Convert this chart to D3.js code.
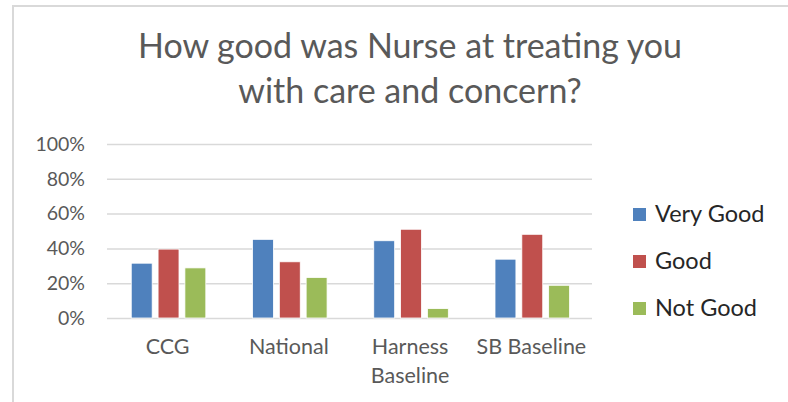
<!DOCTYPE html>
<html lang="en">
<head>
  <meta charset="UTF-8">
  <title>Nurse care and concern</title>
  <style>
    body { margin: 0; background: #fff; }
    text { font-family: Lato, "Open Sans", sans-serif; }
  </style>
</head>
<body>
  <script src="https://d3js.org/d3.v7.min.js"></script>
  <script>
    const categories = ['CCG', 'National', 'Harness Baseline', 'SB Baseline']
    const series = ['Very Good', 'Good', 'Not Good']
    const veryGood = [31.5, 45.2, 44.4, 33.8]
    const good = [39.6, 32.3, 51, 48.1]
    const notGood = [28.8, 23.3, 5.4, 18.8]
    const yTicks = [0, 20, 40, 60, 80, 100]
    const colors = ['#4f81bd', '#c0504d', '#9bbb59']
    const titleLines = ['How good was Nurse at treating you', 'with care and concern?']

    const values = [veryGood, good, notGood]
    const ds = categories.map((c, i) => ({ cat: c, vals: values.map(v => v[i]) }))

    const width = 788
    const height = 402
    const plot = { left: 107, right: 592, top: 144, bottom: 318 }

    const svg = d3.select('body')
      .append('svg')
      .attr('width', width)
      .attr('height', height)

    // chart frame (only top and left edges are visible)
    svg.append('path')
      .attr('d', `M13,${height + 5} L13,6 L${width + 5},6`)
      .attr('fill', 'none')
      .attr('stroke', '#d9d9d9')
      .attr('stroke-width', 2)

    svg.selectAll('.title')
      .data(titleLines)
      .enter()
      .append('text')
      .attr('class', 'title')
      .attr('x', 410)
      .attr('y', (d, i) => 58 + i * 45)
      .attr('text-anchor', 'middle')
      .attr('font-size', 34)
      .attr('fill', '#595959')
      .text(d => d)

    const xScale = d3.scaleBand()
      .domain(categories)
      .range([plot.left, plot.right])

    const xInner = d3.scaleBand()
      .domain(series)
      .range([xScale.bandwidth() * 0.2, xScale.bandwidth() * 0.815])
      .paddingInner(0.22)

    const yScale = d3.scaleLinear()
      .domain([0, 100])
      .range([plot.bottom, plot.top])

    const yAxis = d3.axisLeft(yScale)
      .tickValues(yTicks)
      .tickSize(-(plot.right - plot.left))
      .tickPadding(22)
      .tickFormat(d => d + '%')

    svg.append('g')
      .attr('transform', `translate(${plot.left},0)`)
      .call(yAxis)
      .call(g => g.select('.domain').remove())
      .call(g => g.selectAll('line').attr('stroke', '#d9d9d9').attr('stroke-width', 1.5))
      .call(g => g.selectAll('text')
        .attr('font-size', 19.5)
        .attr('fill', '#595959')
        .style('font-family', 'Lato, sans-serif'))

    const groups = svg.selectAll('.cat')
      .data(ds)
      .enter()
      .append('g')
      .attr('class', 'cat')
      .attr('transform', d => `translate(${xScale(d.cat)},0)`)

    groups.selectAll('rect')
      .data(d => d.vals.map((v, i) => ({ s: series[i], v: v, i: i })))
      .enter()
      .append('rect')
      .attr('x', d => xInner(d.s))
      .attr('width', xInner.bandwidth())
      .attr('y', d => yScale(d.v))
      .attr('height', d => yScale(0) - yScale(d.v))
      .attr('fill', d => colors[d.i])
      .attr('stroke', '#fff')
      .attr('stroke-width', 0.8)

    // category labels, wrapped like the original
    const xLabels = svg.selectAll('.xlab')
      .data(categories)
      .enter()
      .append('text')
      .attr('class', 'xlab')
      .attr('x', d => xScale(d) + xScale.bandwidth() / 2)
      .attr('y', 354)
      .attr('text-anchor', 'middle')
      .attr('font-size', 21.5)
      .attr('fill', '#595959')

    xLabels.each(function (d) {
      const lines = d === 'Harness Baseline' ? ['Harness', 'Baseline'] : [d]
      d3.select(this).selectAll('tspan')
        .data(lines)
        .enter()
        .append('tspan')
        .attr('x', xScale(d) + xScale.bandwidth() / 2)
        .attr('dy', (l, i) => i === 0 ? 0 : 28.5)
        .text(l => l)
    })

    const legend = svg.selectAll('.leg')
      .data(series)
      .enter()
      .append('g')
      .attr('class', 'leg')
      .attr('transform', (d, i) => `translate(633,${214.5 + i * 47})`)

    legend.append('rect')
      .attr('x', 0)
      .attr('y', -6.5)
      .attr('width', 13)
      .attr('height', 13)
      .attr('fill', (d, i) => colors[i])

    legend.append('text')
      .attr('x', 22)
      .attr('y', 7.5)
      .attr('font-size', 23.5)
      .attr('fill', '#262626')
      .text(d => d)
  </script>
</body>
</html>
